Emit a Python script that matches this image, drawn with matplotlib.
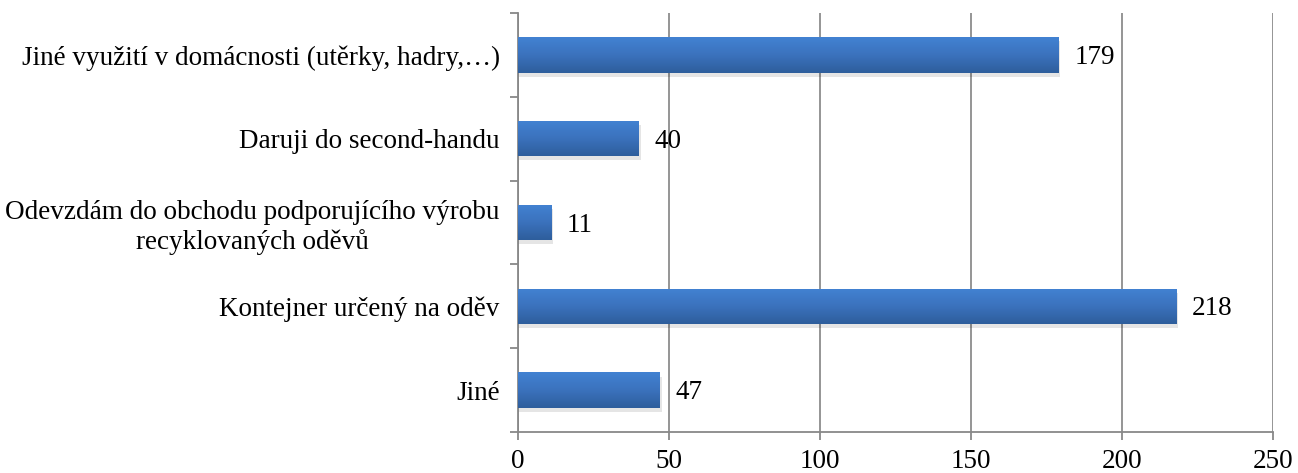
import numpy as np
import matplotlib.pyplot as plt
from matplotlib.colors import LinearSegmentedColormap

categories = ["Jiné využití v domácnosti (utěrky, hadry,…)",
              "Daruji do second-handu",
              "Odevzdám do obchodu podporujícího výrobu\nrecyklovaných oděvů",
              "Kontejner určený na oděv",
              "Jiné"]
values = [179, 40, 11, 218, 47]
xticks = [0, 50, 100, 150, 200, 250]

plt.rcParams['font.family'] = ['Liberation Serif', 'DejaVu Serif']
plt.rcParams['font.size'] = 19.5

fig = plt.figure(figsize=(12.98, 4.73), dpi=100)
ax = fig.add_axes([0.399, 0.0867, 0.5817, 0.8858])

y = np.arange(len(categories))[::-1]
bars = ax.barh(y, values, height=0.42, color='#3a70bb', zorder=3)

# gradient fill + soft shadow
cmap = LinearSegmentedColormap.from_list('g', ['#2e5e9c', '#3b72bd', '#4282d2'])
grad = np.linspace(0, 1, 64).reshape(-1, 1)
for b in bars:
    x0, y0, w, h = b.get_x(), b.get_y(), b.get_width(), b.get_height()
    ax.barh(y0 + h / 2 - 0.05, w + 0.6, height=h, left=x0, color='#000000',
            alpha=0.10, zorder=2)
    im = ax.imshow(grad, cmap=cmap, aspect='auto', extent=[x0, x0 + w, y0, y0 + h],
                   origin='lower', zorder=3.5, interpolation='bilinear')
    im.set_clip_path(b)
    ax.text(x0 + w + 5.2, y0 + h / 2 - 0.03, str(int(w)), va='center', ha='left',
            fontsize=19.5, zorder=4)

ax.set_xlim(0, 250)
ax.set_ylim(-0.5, len(categories) - 0.5)
ax.set_xticks(xticks)
ax.set_yticks(y)
ax.set_yticklabels(categories, multialignment='center')
ax.set_yticks(np.arange(-0.5, len(categories)), minor=True)
ax.tick_params(axis='y', which='major', length=0, pad=13)
ax.tick_params(axis='y', which='minor', length=5.5, width=1.3, color='#888888')
ax.tick_params(axis='x', length=6, width=1.3, color='#888888', pad=6)

ax.grid(axis='x', color='#8c8c8c', linewidth=1.3, zorder=0)
for s in ['top', 'right']:
    ax.spines[s].set_visible(False)
for s in ['left', 'bottom']:
    ax.spines[s].set_color('#888888')
    ax.spines[s].set_linewidth(1.3)

fig.savefig('out.png', dpi=100)
